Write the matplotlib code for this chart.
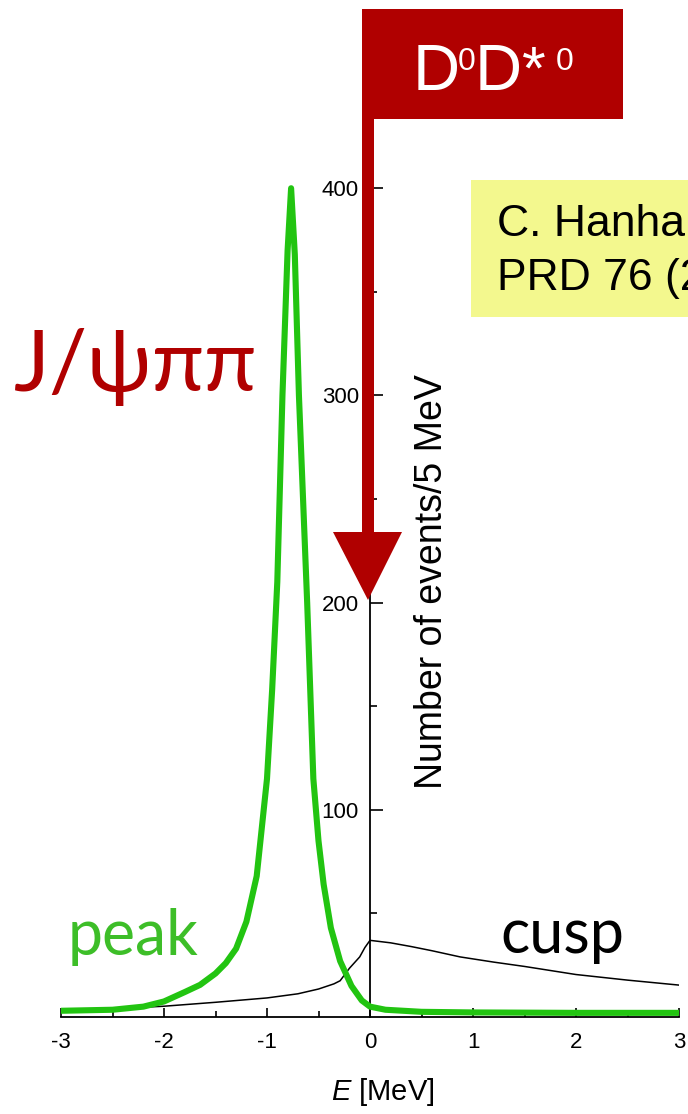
import matplotlib
matplotlib.use("Agg")
import matplotlib.pyplot as plt
from matplotlib.patches import Rectangle, Polygon

plt.rcParams["font.family"] = ["Liberation Sans", "DejaVu Sans"]
plt.rcParams["axes.unicode_minus"] = False
plt.rcParams["mathtext.fontset"] = "custom"
plt.rcParams["mathtext.it"] = "Liberation Sans:italic"
plt.rcParams["mathtext.rm"] = "Liberation Sans"

# Energy relative to the D0 D*0 threshold [MeV] and events per 5 MeV
peak_e = [-3.0, -2.5, -2.2, -2.0, -1.8, -1.65, -1.5, -1.4, -1.3, -1.2, -1.1,
          -1.0, -0.95, -0.9, -0.85, -0.8, -0.766, -0.73, -0.69, -0.65, -0.61,
          -0.55, -0.5, -0.45, -0.38, -0.29, -0.18, -0.08, 0.0, 0.15, 0.5,
          1.0, 2.0, 3.0]
peak_n = [3.0, 3.5, 5.0, 7.5, 12.0, 15.5, 21.0, 26.0, 33.0, 46.0, 68.0,
          115.0, 158.0, 210.0, 300.0, 370.0, 400.0, 368.0, 300.0, 250.0, 200.0,
          115.0, 85.0, 64.0, 43.0, 27.0, 15.0, 8.0, 5.0, 3.5, 2.5,
          2.2, 2.0, 2.0]

cusp_e = [-3.0, -2.5, -2.0, -1.5, -1.0, -0.7, -0.5, -0.35, -0.29, -0.2, -0.1,
          -0.05, 0.0, 0.2, 0.4, 0.6, 0.875, 1.2, 1.5, 2.0, 2.5, 3.0]
cusp_n = [3.0, 4.0, 5.2, 7.1, 9.2, 11.2, 13.5, 16.0, 17.5, 23.5, 29.0,
          33.5, 37.0, 35.8, 34.0, 32.0, 29.0, 26.5, 24.4, 20.5, 17.8, 15.4]

x_major = [-3, -2, -1, 0, 1, 2, 3]
x_minor = [-2.5, -1.5, -0.5, 0.5, 1.5, 2.5]
y_major = [100, 200, 300, 400]
y_minor = [50, 150, 250, 350]

RED = "#B00000"
GREEN = "#22C411"
W, H = 688, 1114


def fx(px):
    return px / W


def fy(py):
    return 1 - py / H


fig = plt.figure(figsize=(W / 100, H / 100), dpi=100)
fig.patch.set_facecolor("white")
ax = fig.add_axes([fx(61), fy(1017), 618 / W, 922 / H])

ax.plot(cusp_e, cusp_n, color="black", linewidth=1.1, zorder=2)
ax.plot(peak_e, peak_n, color=GREEN, linewidth=4.4, zorder=3,
        solid_capstyle="round", solid_joinstyle="round")

ax.set_xlim(-3, 3)
ax.set_ylim(0, 445)

# axis through E = 0, no box
ax.spines["left"].set_position(("data", 0))
ax.spines["top"].set_visible(False)
ax.spines["right"].set_visible(False)
ax.spines["left"].set_linewidth(1.3)
ax.spines["bottom"].set_linewidth(1.3)

ax.set_xticks(x_major)
ax.set_xticks(x_minor, minor=True)
ax.set_xticklabels([str(v) for v in x_major])
ax.set_yticks(y_major)
ax.set_yticks(y_minor, minor=True)
ax.set_yticklabels([str(v) for v in y_major])

ax.tick_params(axis="x", which="major", direction="in", length=6.5, width=1.2,
               labelsize=16, pad=11)
ax.tick_params(axis="x", which="minor", direction="in", length=4.5, width=1.2)
ax.tick_params(axis="y", which="major", direction="in", length=9.5, width=1.2,
               labelsize=16, pad=8)
ax.tick_params(axis="y", which="minor", direction="in", length=5, width=1.2)

fig.text(fx(383), fy(1092), "$E$ [MeV]", fontsize=21, ha="center", va="center")
fig.text(fx(432), fy(582), "Number of events/5 MeV", fontsize=27,
         rotation=90, ha="center", va="center")

# threshold marker: flag with label and arrow down to the axis
flag = Polygon([(fx(362), fy(9)), (fx(623), fy(9)), (fx(623), fy(119)),
                (fx(374), fy(119)), (fx(374), fy(532)), (fx(402), fy(532)),
                (fx(368), fy(600)), (fx(333), fy(532)), (fx(362), fy(532))],
               closed=True, transform=fig.transFigure, facecolor=RED,
               edgecolor="none", zorder=5)
fig.add_artist(flag)
fig.text(fx(413), fy(90), "D", fontsize=47, color="white", va="baseline", zorder=6)
fig.text(fx(458), fy(70), "0", fontsize=23, color="white", va="baseline", zorder=6)
fig.text(fx(475), fy(90), "D", fontsize=47, color="white", va="baseline", zorder=6)
fig.text(fx(522), fy(88), "*", fontsize=44, color="white", va="baseline", zorder=6)
fig.text(fx(556), fy(70), "0", fontsize=23, color="white", va="baseline", zorder=6)

# reference box
fig.add_artist(Rectangle((fx(471), fy(317)), 240 / W, 137 / H,
                         transform=fig.transFigure, facecolor="#F3F88E",
                         edgecolor="none", zorder=5))
fig.text(fx(497), fy(235), "C. Hanhart et al.,", fontsize=32, va="baseline", zorder=6)
fig.text(fx(497), fy(290), "PRD 76 (2007) 034007", fontsize=32, va="baseline", zorder=6)

fig.text(fx(14), fy(391), "J/ψππ", fontsize=61, color=RED, va="baseline",
         family=["Lato", "Noto Sans", "DejaVu Sans"], zorder=6)
fig.text(fx(68), fy(955), "peak", fontsize=45, color="#3DBE28", va="baseline",
         family=["Lato", "DejaVu Sans"], zorder=6)
fig.text(fx(500), fy(953), "cusp", fontsize=44, color="black", va="baseline",
         family=["Lato", "DejaVu Sans"], zorder=6)

fig.savefig("out.png", dpi=100, facecolor="white")
